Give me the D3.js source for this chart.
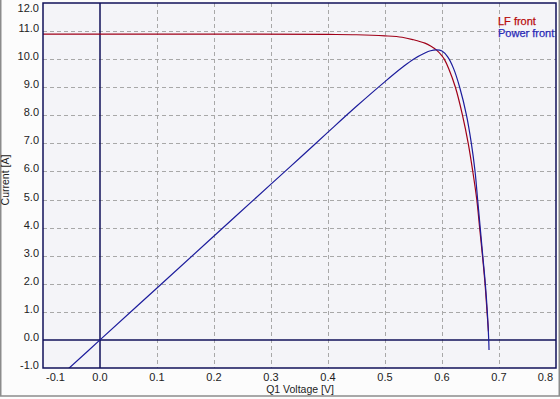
<!DOCTYPE html>
<html>
<head>
<meta charset="utf-8">
<script src="https://cdn.jsdelivr.net/npm/d3@7"></script>
<style>
  body { margin: 0; background: #fcfcfc; }
  svg { display: block; font-family: Arial, "Liberation Sans", sans-serif; }
</style>
</head>
<body>
<svg id="chart" width="560" height="399"></svg>
<script>
// I-V curve (red), [voltage, current]
const lfFront = [
  [-0.1, 10.89], [0.0, 10.89], [0.2, 10.89], [0.4, 10.88], [0.45, 10.87], [0.5, 10.83],
  [0.53, 10.78], [0.55, 10.69], [0.57, 10.57], [0.58, 10.47], [0.59, 10.33], [0.6, 10.12],
  [0.604, 10.0], [0.612, 9.65], [0.6235, 9.0], [0.636, 8.0], [0.646, 7.0], [0.654, 6.0],
  [0.661, 5.0], [0.666, 4.0], [0.671, 3.0], [0.6755, 2.0], [0.679, 1.0], [0.6815, 0.3]
];

// power curve (blue), same axes
const powerFront = [
  [-0.06, -1.11], [0.0, 0.0], [0.1, 1.85], [0.2, 3.7], [0.3, 5.55], [0.35, 6.47],
  [0.4, 7.4], [0.45, 8.32], [0.5, 9.2], [0.53, 9.7], [0.55, 10.0], [0.57, 10.22],
  [0.58, 10.3], [0.59, 10.33], [0.6, 10.29], [0.61, 10.08], [0.62, 9.68], [0.631, 9.0],
  [0.643, 8.0], [0.6515, 7.0], [0.658, 6.0], [0.6625, 5.0], [0.667, 4.0], [0.6715, 3.0],
  [0.676, 2.0], [0.6795, 1.0], [0.682, 0.0], [0.6825, -0.36]
];

const xTicks = [-0.1, 0, 0.1, 0.2, 0.3, 0.4, 0.5, 0.6, 0.7, 0.8];
const yTicks = [-1, 0, 1, 2, 3, 4, 5, 6, 7, 8, 9, 10, 11, 12];

const legend = [
  { name: "LF front", color: "#b80c0c" },
  { name: "Power front", color: "#2a2ab8" }
];

const svg = d3.select("#chart");
const plotL = 43, plotR = 556, plotT = 3, plotB = 368;
const frameColor = "#10105a";

const x = d3.scaleLinear().domain([-0.1, 0.8]).range([plotL, plotR]);
const y = d3.scaleLinear().domain([-1, 12]).range([plotB, plotT]);
const fmt = d => d3.format(".1f")(d).replace("−", "-");

// outer border
svg.append("rect")
  .attr("x", 0.75).attr("y", -2)
  .attr("width", 558.5).attr("height", 398)
  .attr("fill", "#fcfcfc")
  .attr("stroke", "#8c8c8c").attr("stroke-width", 1.5);

svg.append("rect")
  .attr("x", plotL).attr("y", plotT)
  .attr("width", plotR - plotL).attr("height", plotB - plotT)
  .attr("fill", "#f4f4f8");

svg.append("clipPath").attr("id", "plot-clip")
  .append("rect")
  .attr("x", plotL).attr("y", plotT)
  .attr("width", plotR - plotL).attr("height", plotB - plotT);

// grid
const grid = svg.append("g")
  .attr("stroke", "#a8a8a8")
  .attr("stroke-dasharray", "4,3")
  .attr("stroke-width", 1);

grid.selectAll("line.v")
  .data(xTicks.filter(d => d > -0.1 && d < 0.8 && d !== 0))
  .enter().append("line")
  .attr("x1", d => Math.round(x(d)) + 0.5).attr("x2", d => Math.round(x(d)) + 0.5)
  .attr("y1", plotT).attr("y2", plotB);

grid.selectAll("line.h")
  .data(yTicks.filter(d => d > -1 && d < 12 && d !== 0))
  .enter().append("line")
  .attr("y1", d => Math.round(y(d)) + 0.5).attr("y2", d => Math.round(y(d)) + 0.5)
  .attr("x1", plotL).attr("x2", plotR);

// zero axes
svg.append("line")
  .attr("x1", x(0)).attr("x2", x(0)).attr("y1", plotT).attr("y2", plotB)
  .attr("stroke", frameColor).attr("stroke-width", 1.5);
svg.append("line")
  .attr("x1", plotL).attr("x2", plotR).attr("y1", y(0)).attr("y2", y(0))
  .attr("stroke", frameColor).attr("stroke-width", 1.5);

// curves
const curveLine = d3.line().x(d => x(d[0])).y(d => y(d[1])).curve(d3.curveCatmullRom);

const curves = svg.append("g").attr("clip-path", "url(#plot-clip)").attr("fill", "none");
curves.append("path").datum(lfFront)
  .attr("d", curveLine)
  .attr("stroke", "#a00018").attr("stroke-width", 1.2);
curves.append("path").datum(powerFront)
  .attr("d", curveLine)
  .attr("stroke", "#1c1c9c").attr("stroke-width", 1.2);

// frame
svg.append("rect")
  .attr("x", plotL).attr("y", plotT)
  .attr("width", plotR - plotL).attr("height", plotB - plotT)
  .attr("fill", "none")
  .attr("stroke", frameColor).attr("stroke-width", 1.5);

// tick labels, kept inside the plot's width at both ends
svg.append("g").selectAll("text")
  .data(xTicks)
  .enter().append("text")
  .attr("x", d => d === -0.1 ? 46 : d === 0.8 ? 553 : x(d))
  .attr("y", 381)
  .attr("text-anchor", d => d === -0.1 ? "start" : d === 0.8 ? "end" : "middle")
  .attr("font-size", 11)
  .attr("fill", "#222")
  .text(fmt);

svg.append("g").selectAll("text")
  .data(yTicks)
  .enter().append("text")
  .attr("x", 39)
  .attr("y", d => Math.max(12, y(d) + 1))
  .attr("text-anchor", "end")
  .attr("font-size", 11)
  .attr("fill", "#222")
  .text(fmt);

// axis titles
svg.append("text")
  .attr("x", 300).attr("y", 393)
  .attr("text-anchor", "middle")
  .attr("font-size", 10.5)
  .attr("fill", "#222")
  .text("Q1 Voltage [V]");

svg.append("text")
  .attr("transform", "translate(9,180) rotate(-90)")
  .attr("text-anchor", "middle")
  .attr("font-size", 10.5)
  .attr("fill", "#222")
  .text("Current [A]");

// legend
svg.append("g").selectAll("text")
  .data(legend)
  .enter().append("text")
  .attr("x", 498)
  .attr("y", (d, i) => 25 + i * 12)
  .attr("font-size", 11)
  .attr("fill", d => d.color)
  .attr("stroke", d => d.color)
  .attr("stroke-width", 0.25)
  .text(d => d.name);
</script>
</body>
</html>
